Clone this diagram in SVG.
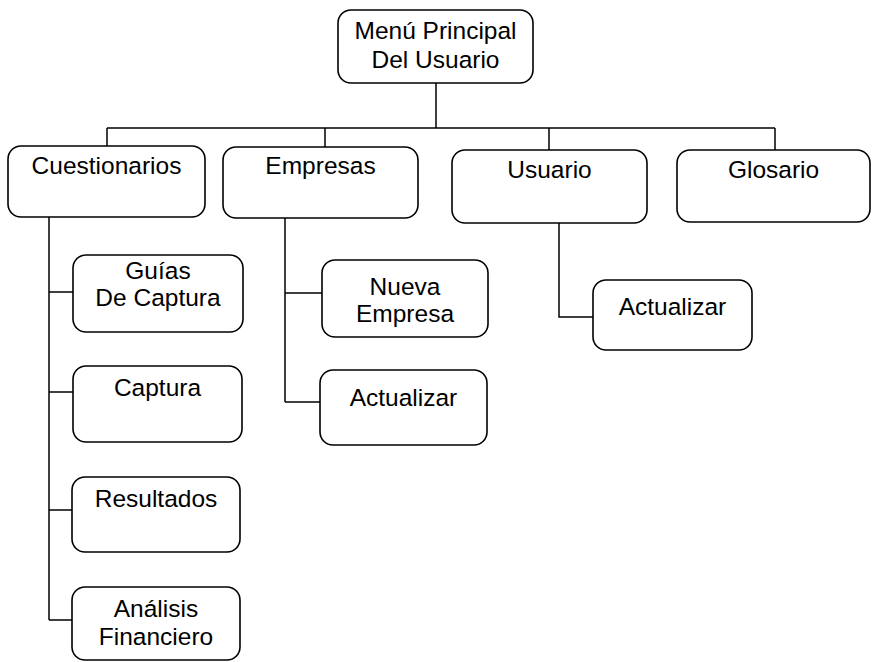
<svg xmlns="http://www.w3.org/2000/svg" width="873" height="662" viewBox="0 0 873 662">
<style>
.box{fill:#fff;stroke:#000;stroke-width:1.6}
.ln{fill:none;stroke:#000;stroke-width:1.5}
text{font-family:"Liberation Sans",Arial,sans-serif;font-size:24.5px;fill:#000;text-anchor:middle}
</style>
<rect width="873" height="662" fill="#fff"/>
<g id="connectors">
<path class="ln" d="M436,83V128M107,128H775M107,128V146M325,128V147M549,128V150M775,128V150"/>
<path class="ln" d="M49,217V620M49,292H73M49,392H73M49,510H72M49,620H72"/>
<path class="ln" d="M285,218V402M285,293H322M285,402H320"/>
<path class="ln" d="M559,223V317H593"/>
</g>
<g id="menu"><rect class="box" x="338" y="10" width="195" height="73" rx="13"/><text x="435.5" y="39">Menú Principal</text><text x="435.5" y="68">Del Usuario</text></g>
<g id="cuestionarios"><rect class="box" x="8" y="146" width="197" height="71" rx="13"/><text x="106.5" y="174">Cuestionarios</text></g>
<g id="empresas"><rect class="box" x="223" y="147" width="195" height="71" rx="13"/><text x="320.5" y="174">Empresas</text></g>
<g id="usuario"><rect class="box" x="452" y="150" width="195" height="73" rx="13"/><text x="549.5" y="178">Usuario</text></g>
<g id="glosario"><rect class="box" x="677" y="150" width="193" height="72" rx="13"/><text x="773.5" y="178">Glosario</text></g>
<g id="guias"><rect class="box" x="73" y="255" width="170" height="77" rx="13"/><text x="158" y="279">Guías</text><text x="158" y="306">De Captura</text></g>
<g id="captura"><rect class="box" x="73" y="366" width="169" height="76" rx="13"/><text x="157.5" y="396">Captura</text></g>
<g id="resultados"><rect class="box" x="72" y="477" width="168" height="75" rx="13"/><text x="156" y="507">Resultados</text></g>
<g id="analisis"><rect class="box" x="72" y="587" width="168" height="73" rx="13"/><text x="156" y="617">Análisis</text><text x="156" y="645">Financiero</text></g>
<g id="nueva-empresa"><rect class="box" x="322" y="260" width="166" height="77" rx="13"/><text x="405" y="295">Nueva</text><text x="405" y="322">Empresa</text></g>
<g id="actualizar-empresas"><rect class="box" x="320" y="370" width="167" height="75" rx="13"/><text x="403.5" y="406">Actualizar</text></g>
<g id="actualizar-usuario"><rect class="box" x="593" y="280" width="159" height="70" rx="13"/><text x="672.5" y="315">Actualizar</text></g>
</svg>
